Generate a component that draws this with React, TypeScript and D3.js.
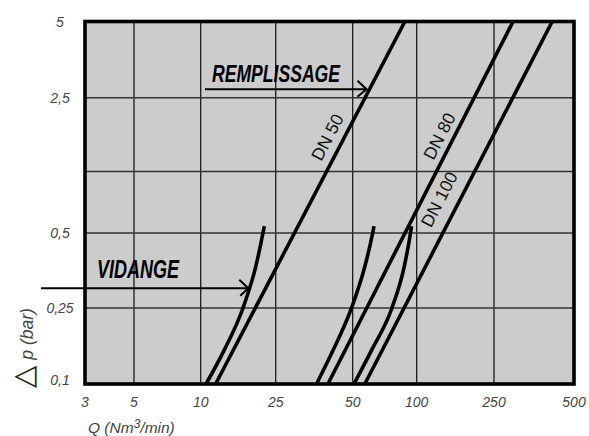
import React from 'react';
import * as d3 from 'd3';

// ---- data ----
const xTicks = [3, 5, 10, 25, 50, 100, 250, 500];
const xTickLabels = ['3', '5', '10', '25', '50', '100', '250', '500'];
const yTicks = [0.1, 0.25, 0.5, 1, 2.5, 5];
const yTickLabels = ['0,1', '0,25', '0,5', '', '2,5', '5'];

const seriesNames = ['DN 50', 'DN 80', 'DN 100'];

// Remplissage (filling): straight lines, Q at Δp = 0.1 and 5 bar
const fillingDp = [0.1, 5];
const fillingDN50 = [12.0, 88];
const fillingDN80 = [40, 295];
const fillingDN100 = [57, 414];

// Vidange (draining): curves
const drainDp = [0.1, 0.15, 0.25, 0.37, 0.5, 0.54];
const drainDN50 = [10.67, 13.3, 16.77, 19.65, 21.4, 21.75];
const drainDN80 = [36.1, 41.9, 49.5, 57.2, 62.1, 63.0];
const drainDN100 = [50.7, 61.3, 76.5, 87.6, 93.5, 94.5];

// annotation anchors (data units)
const remplissageDp = 2.7;
const vidangeDp = 0.3;
const vidangeQ = 18.1;
const labelDp = [1.53, 1.55, 0.73];

// ---- layout ----
const W = 589;
const H = 436;
const left = 85;
const right = 574;
const top = 21.5;
const bottom = 384;
const xFrac = [0, 0.1002, 0.2366, 0.39, 0.5474, 0.6783, 0.8364, 1];
const yFrac = [0, 0.2097, 0.4166, 0.5862, 0.7898, 1];
const labelDx = [-17, -15, -21];

const font = "'Liberation Sans', Arial, Helvetica, sans-serif";

export default function App() {
  const x = d3.scaleLog().domain(xTicks).range(xFrac.map((f) => left + f * (right - left)));
  const y = d3.scaleLog().domain(yTicks).range(yFrac.map((f) => bottom - f * (bottom - top)));

  const filling = [fillingDN50, fillingDN80, fillingDN100].map((qs) =>
    qs.map((q, i) => [q, fillingDp[i]] as [number, number])
  );
  const drains = [drainDN50, drainDN80, drainDN100].map((qs) =>
    qs.map((q, i) => [q, drainDp[i]] as [number, number])
  );

  const straight = d3
    .line<[number, number]>()
    .x((d) => x(d[0]))
    .y((d) => y(d[1]));
  const curved = d3
    .line<[number, number]>()
    .x((d) => x(d[0]))
    .y((d) => y(d[1]))
    .curve(d3.curveMonotoneX);

  // pixel x of a straight filling line at a given pixel y
  const lineXAt = (pts: [number, number][], py: number) => {
    const x1 = x(pts[0][0]), y1 = y(pts[0][1]);
    const x2 = x(pts[1][0]), y2 = y(pts[1][1]);
    return x1 + ((py - y1) / (y2 - y1)) * (x2 - x1);
  };

  const remY = y(remplissageDp);
  const remTip = lineXAt(filling[0], remY) - 3;
  const vidY = y(vidangeDp);
  const vidTip = x(vidangeQ) - 1;

  return (
    <svg
      width={W}
      height={H}
      style={{ position: 'absolute', left: 0, top: 0, background: '#fff' }}
      fontFamily={font}
    >
      <rect x={left} y={top} width={right - left} height={bottom - top} fill="#cccccc" />
      {/* grid */}
      {xTicks.slice(1, -1).map((t) => (
        <line key={'gx' + t} x1={x(t)} x2={x(t)} y1={top} y2={bottom} stroke="#1a1a1a" strokeWidth={1.3} />
      ))}
      {yTicks.slice(1, -1).map((t) => (
        <line key={'gy' + t} x1={left} x2={right} y1={y(t)} y2={y(t)} stroke="#333" strokeWidth={1.6} />
      ))}

      {/* filling lines */}
      {filling.map((pts, i) => (
        <path key={'f' + i} d={straight(pts) || ''} fill="none" stroke="#000" strokeWidth={3.6} />
      ))}
      {/* draining curves */}
      {drains.map((pts, i) => (
        <path key={'d' + i} d={curved(pts) || ''} fill="none" stroke="#000" strokeWidth={3.6} />
      ))}

      {/* border */}
      <rect x={left} y={top} width={right - left} height={bottom - top} fill="none" stroke="#000" strokeWidth={3.6} />

      {/* DN labels */}
      {filling.map((pts, i) => {
        const py = y(labelDp[i]);
        const px = lineXAt(pts, py) + labelDx[i];
        const ang =
          (Math.atan2(y(pts[1][1]) - y(pts[0][1]), x(pts[1][0]) - x(pts[0][0])) * 180) / Math.PI;
        return (
          <text
            key={'lab' + i}
            transform={`translate(${px},${py}) rotate(${ang})`}
            textAnchor="middle"
            dominantBaseline="central"
            fontSize={17.5}
            fill="#111"
          >
            {seriesNames[i]}
          </text>
        );
      })}

      {/* REMPLISSAGE */}
      <text
        x={212}
        y={remY - 7.6}
        fontSize={24}
        fontWeight="bold"
        fontStyle="italic"
        textLength={128}
        lengthAdjust="spacingAndGlyphs"
        fill="#000"
      >
        REMPLISSAGE
      </text>
      <line x1={205} x2={remTip} y1={remY} y2={remY} stroke="#000" strokeWidth={2} />
      <polyline
        points={`${remTip - 9},${remY - 8.5} ${remTip},${remY} ${remTip - 9},${remY + 7.5}`}
        fill="none"
        stroke="#000"
        strokeWidth={2}
      />

      {/* VIDANGE */}
      <text
        x={97}
        y={vidY - 10.5}
        fontSize={25}
        fontWeight="bold"
        fontStyle="italic"
        textLength={82}
        lengthAdjust="spacingAndGlyphs"
        fill="#000"
      >
        VIDANGE
      </text>
      <line x1={41} x2={vidTip} y1={vidY} y2={vidY} stroke="#000" strokeWidth={2} />
      <polyline
        points={`${vidTip - 9},${vidY - 8.5} ${vidTip},${vidY} ${vidTip - 8},${vidY + 7.5}`}
        fill="none"
        stroke="#000"
        strokeWidth={2}
      />

      {/* x tick labels */}
      {xTicks.map((t, i) => (
        <text
          key={'xt' + t}
          x={x(t)}
          y={407}
          textAnchor="middle"
          fontSize={14}
          fontStyle="italic"
          fill="#444"
        >
          {xTickLabels[i]}
        </text>
      ))}
      {/* y tick labels */}
      {yTicks.map((t, i) =>
        yTickLabels[i] ? (
          <text
            key={'yt' + t}
            x={60}
            y={y(t) + (t === 0.1 ? -4 : 0)}
            textAnchor="middle"
            dominantBaseline="central"
            fontSize={14}
            fontStyle="italic"
            fill="#444"
          >
            {yTickLabels[i]}
          </text>
        ) : null
      )}

      {/* axis titles */}
      <text x={88} y={433} fontSize={15.5} fontStyle="italic" fill="#444">
        Q (Nm
        <tspan fontSize={12} dy={-5}>3</tspan>
        <tspan dy={5}>/min)</tspan>
      </text>
      <text transform="translate(33,388) rotate(-90)" fill="#444">
        <tspan fontSize={29} fontFamily="'DejaVu Sans', sans-serif" fill="#222">△</tspan>
        <tspan fontSize={17.5} fontStyle="italic" dx={6}>p (bar)</tspan>
      </text>
    </svg>
  );
}
